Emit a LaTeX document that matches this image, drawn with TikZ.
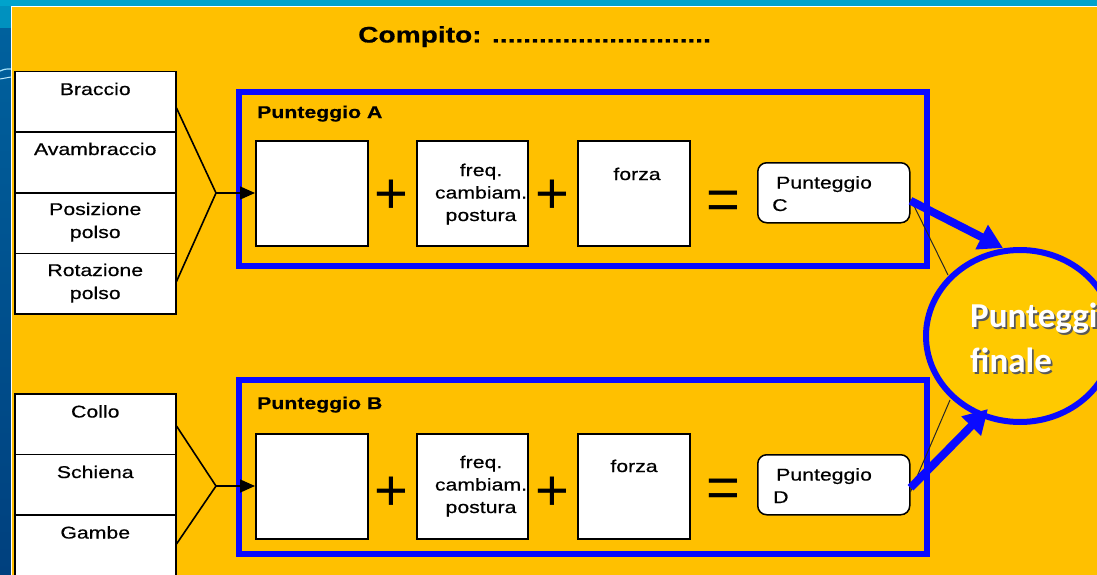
\documentclass[tikz,border=0pt]{standalone}
\usepackage{fontspec}
\newfontfamily\wide{Liberation Sans}[FakeStretch=1.25,FakeBold=0.5]
\newfontfamily\plainsans{Liberation Sans}
\newfontfamily\calib{Carlito}
\usetikzlibrary{arrows.meta,shapes.geometric}
\definecolor{panel}{HTML}{FFC000}
\definecolor{ring}{HTML}{0A0AFF}
\definecolor{sky}{HTML}{00A3CC}
\definecolor{deep}{HTML}{00478C}
\definecolor{disc}{HTML}{FFC900}
\begin{document}
\begin{tikzpicture}[x=1pt,y=-1pt,
  cell/.style={draw=black,line width=1.5pt,fill=white,rectangle,minimum width=161pt,minimum height=60.5pt,anchor=north west,inner sep=0pt},
  celltxt/.style={font=\wide\fontsize{17}{23}\selectfont,align=center,anchor=north,inner sep=0pt},
  sq/.style={draw=black,line width=1.5pt,fill=white,rectangle,minimum width=112pt,minimum height=105pt,anchor=north west,inner sep=0pt},
  sqtxt/.style={font=\wide\fontsize{17}{22.5}\selectfont,align=center,inner sep=0pt},
  frame/.style={draw=ring,line width=6pt,rectangle,minimum width=688pt,anchor=north west,inner sep=0pt},
  head/.style={font=\wide\bfseries\fontsize{17}{20}\selectfont,anchor=base west,inner sep=0pt},
  op/.style={font=\plainsans\fontsize{58}{58}\selectfont,anchor=base,inner sep=0pt},
  pbox/.style={draw=black,line width=1.5pt,fill=white,rounded corners=9pt,rectangle,minimum width=152pt,minimum height=60pt,anchor=north west,inner sep=0pt},
  ptxt/.style={font=\wide\fontsize{17}{22.5}\selectfont,align=left,anchor=north west,inner sep=0pt},
  link/.style={draw=black,line width=1.6pt},
  thin/.style={draw=black!85,line width=1pt},
  bluearrow/.style={draw=ring,line width=8pt,-{Triangle[length=24pt,width=26pt]}}
]
\useasboundingbox (0,0) rectangle (1097,575);
\clip (0,0) rectangle (1097,575);

% slide background
\fill[deep] (0,0) rectangle (1097,575);
\shade[top color=deep!70!sky, bottom color=deep!90!black] (0,0) rectangle (12,575);
\fill[sky] (0,0) rectangle (1097,6.5);
\fill[sky!80!deep] (0,6.5) rectangle (12,28);
\draw[cyan!35!white,line width=1.2pt] (0,71) .. controls (5,69) .. (11,69);
\draw[cyan!25!white,line width=1pt] (0,79) .. controls (5,78) .. (11,77);
\draw[white,line width=1pt] (11.5,575) -- (11.5,7) -- (1097,7);
\fill[panel] (12,7.5) rectangle (1097,575);

% title
\node[font=\wide\bfseries\fontsize{22.5}{24}\selectfont,anchor=base west,inner sep=0pt] (title) at (358,42.5) {Compito: ............................};

% upper limb segments
\node[cell] (braccio) at (14,71) {};
\node[cell] (avamb) at (14,131.5) {};
\node[cell] (posiz) at (14,192) {};
\node[cell] (rotaz) at (14,252.5) {};
\node[celltxt] (tbraccio) at ([yshift=-11.5pt]braccio.north) {Braccio};
\node[celltxt] (tavamb) at ([yshift=-11pt]avamb.north) {Avambraccio};
\node[celltxt] (tposiz) at ([yshift=-10.5pt]posiz.north) {Posizione\\polso};
\node[celltxt] (trotaz) at ([yshift=-11pt]rotaz.north) {Rotazione\\polso};

% neck, trunk, legs
\node[cell] (collo) at (14,393) {};
\node[cell] (schiena) at (14,453.5) {};
\node[cell] (gambe) at (14,514) {};
\node[celltxt] (tcollo) at ([yshift=-12pt]collo.north) {Collo};
\node[celltxt] (tschiena) at ([yshift=-12pt]schiena.north) {Schiena};
\node[celltxt] (tgambe) at ([yshift=-12pt]gambe.north) {Gambe};

% score frames
\node[frame,minimum height=174pt] (frameA) at (236,89) {};
\node[frame,minimum height=174pt] (frameB) at (236,377) {};
\node[head] (headA) at (257,118) {Punteggio A};
\node[head] (headB) at (257,409) {Punteggio B};

% row A
\node[sq] (a1) at (255,140) {};
\node[sq,minimum width=111pt] (a2) at (416,140) {};
\node[sq] (a3) at (577,140) {};
\node[sqtxt,anchor=north] (ta2) at (481,163.5) {freq.\\cambiam.\\postura};
\node[sqtxt,anchor=base] (ta3) at (637,180) {forza};
\node[op] (plusA1) at (391,213.5) {+};
\node[op] (plusA2) at (552,213.5) {+};
\node[op] (eqA) at (723,219) {=};
\node[pbox] (pc) at (757,162) {};
\node[ptxt] (tpc) at (772,176) {\hspace*{4pt}Punteggio\\C};

% row B
\node[sq] (b1) at (255,433) {};
\node[sq,minimum width=111pt] (b2) at (416,433) {};
\node[sq] (b3) at (577,433) {};
\node[sqtxt,anchor=north] (tb2) at (481,455.5) {freq.\\cambiam.\\postura};
\node[sqtxt,anchor=base] (tb3) at (634,472) {forza};
\node[op] (plusB1) at (391,510.5) {+};
\node[op] (plusB2) at (552,510.5) {+};
\node[op] (eqB) at (723,507) {=};
\node[pbox] (pd) at (757,454) {};
\node[ptxt] (tpd) at (773,468) {\hspace*{3pt}Punteggio\\D};

% branching connectors into the first box of each row
\coordinate (va) at (216,193);
\coordinate (vb) at (216,486);
\draw[link] ([yshift=-6pt]braccio.east) -- (va) -- ([yshift=2pt]rotaz.east);
\draw[link,-{Triangle[length=15pt,width=13pt]}] (va) -- (va -| a1.west);
\draw[link] ([yshift=-2pt]collo.east) -- (vb) -- ([yshift=1pt]gambe.east);
\draw[link,-{Triangle[length=15pt,width=13pt]}] (vb) -- (vb -| b1.west);

% final score
\node[ellipse,draw=ring,line width=6pt,fill=disc,minimum width=188pt,minimum height=172pt,inner sep=0pt] (final) at (1020,336) {};
\node[font=\calib\bfseries\fontsize{35}{45}\selectfont,text=black!65,align=left,anchor=north west,inner sep=0pt] (finalshadow) at (971.8,304.3) {Punteggio\\finale};
\node[font=\calib\bfseries\fontsize{35}{45}\selectfont,text=white,align=left,anchor=north west,inner sep=0pt] (finaltxt) at (970,302.5) {Punteggio\\finale};

% thin links and score arrows
\coordinate (cin) at (948,275);
\coordinate (din) at (950,400);
\coordinate (ctip) at (1003,248);
\coordinate (dtip) at (988,409);
\draw[thin] ([yshift=-6pt]pc.east) -- (cin);
\draw[thin] ([yshift=-7pt]pd.east) -- (din);
\draw[bluearrow] ([yshift=-8pt]pc.east) -- (ctip);
\draw[bluearrow] ([yshift=-3pt]pd.east) -- (dtip);
\end{tikzpicture}
\end{document}
